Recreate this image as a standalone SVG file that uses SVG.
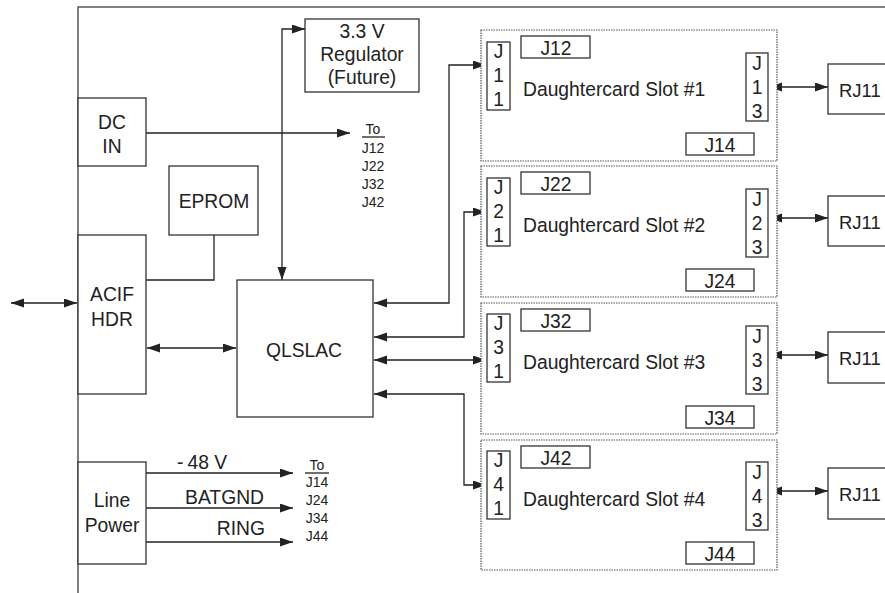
<svg xmlns="http://www.w3.org/2000/svg" width="885" height="593" viewBox="0 0 885 593">
<defs>
<style>
.bx{fill:#fff;stroke:#333;stroke-width:1.3}
.slot{fill:#fff;stroke:#555;stroke-width:1.2;stroke-dasharray:1.5 1}
.frame{fill:none;stroke:#555;stroke-width:1.5}
.w{fill:none;stroke:#222;stroke-width:1.3}
.a{marker-end:url(#ah)}
.d{marker-start:url(#ah);marker-end:url(#ah)}
text{font-family:"Liberation Sans",Arial,sans-serif;fill:#222;font-size:19.3px}
.c{text-anchor:middle}
.s{font-size:14px}
.m{font-size:19.3px}
.r{font-size:18.5px}
</style>
<marker id="ah" markerUnits="userSpaceOnUse" markerWidth="14" markerHeight="10" refX="13" refY="4.5" orient="auto-start-reverse" viewBox="0 0 14 10">
<path d="M0,0 L13,4.5 L0,9 z" fill="#222"/>
</marker>
</defs>
<rect width="885" height="593" fill="#fff"/>
<path class="frame" d="M78,593 V7 H885"/>

<g id="connectors">
<path class="w d" d="M11,303 H77"/>
<path class="w a" d="M146,133 H350"/>
<path class="w d" d="M305,29 H282 V280"/>
<path class="w" d="M214,235 V280 H146"/>
<path class="w d" d="M147,348 H236"/>
<path class="w d" d="M374,303 H449 V65 H486"/>
<path class="w d" d="M374,337 H464 V212 H486"/>
<path class="w d" d="M374,360 H486"/>
<path class="w d" d="M374,394 H464 V485 H486"/>
<path class="w d" d="M769,87 H828"/>
<path class="w d" d="M769,218 H828"/>
<path class="w d" d="M769,355 H828"/>
<path class="w d" d="M769,491 H828"/>
<path class="w a" d="M146,473 H293"/>
<path class="w a" d="M146,508 H293"/>
<path class="w a" d="M146,542 H293"/>
<path class="w" d="M362,137 H385"/>
<path class="w" d="M305,473 H329"/>
</g>

<g id="dcin"><rect class="bx" x="78" y="98" width="68" height="68"/><text class="c" x="112" y="129">DC</text><text class="c" x="112" y="153">IN</text></g>
<g id="eprom"><rect class="bx" x="169" y="166" width="89" height="69"/><text class="c" x="214" y="208">EPROM</text></g>
<g id="acif"><rect class="bx" x="78" y="235" width="68" height="159"/><text class="c" x="112" y="301">ACIF</text><text class="c" x="112" y="326">HDR</text></g>
<g id="qlslac"><rect class="bx" x="237" y="280" width="136" height="137"/><text class="c" x="304" y="357">QLSLAC</text></g>
<g id="regulator"><rect class="bx" x="305" y="19" width="114" height="73"/><text class="c m" x="362" y="38">3.3 V</text><text class="c m" x="362" y="61">Regulator</text><text class="c m" x="362" y="84">(Future)</text></g>
<g id="linepower"><rect class="bx" x="78" y="462" width="68" height="102"/><text class="c" x="112" y="507">Line</text><text class="c" x="112" y="532">Power</text></g>

<g id="labels-dc">
<text class="c s" x="373" y="134">To</text>
<text class="c s" x="373" y="153">J12</text>
<text class="c s" x="373" y="171">J22</text>
<text class="c s" x="373" y="189">J32</text>
<text class="c s" x="373" y="207">J42</text>
</g>
<g id="labels-power">
<text class="m" x="177" y="469">-<tspan dx="4">48 V</tspan></text>
<text class="m" x="264" y="504" text-anchor="end">BATGND</text>
<text class="m" x="265" y="535" text-anchor="end">RING</text>
<text class="c s" x="317" y="470">To</text>
<text class="c s" x="317" y="487">J14</text>
<text class="c s" x="317" y="505">J24</text>
<text class="c s" x="317" y="523">J34</text>
<text class="c s" x="317" y="541">J44</text>
</g>

<g id="slot1">
<rect class="slot" x="481" y="30" width="296" height="131"/>
<rect class="bx" x="487" y="42" width="23" height="68"/>
<text class="c m" x="498.5" y="58">J</text><text class="c m" x="498.5" y="82">1</text><text class="c m" x="498.5" y="106">1</text>
<rect class="bx" x="521" y="36" width="69" height="22"/><text class="c m" x="556" y="55">J12</text>
<text x="523" y="96">Daughtercard Slot #1</text>
<rect class="bx" x="746" y="53" width="22" height="68"/>
<text class="c m" x="757" y="70">J</text><text class="c m" x="757" y="94">1</text><text class="c m" x="757" y="118">3</text>
<rect class="bx" x="686" y="133" width="68" height="22"/><text class="c m" x="720" y="152">J14</text>
</g>
<g id="slot2">
<rect class="slot" x="481" y="166" width="296" height="131"/>
<rect class="bx" x="487" y="178" width="23" height="68"/>
<text class="c m" x="498.5" y="194">J</text><text class="c m" x="498.5" y="218">2</text><text class="c m" x="498.5" y="242">1</text>
<rect class="bx" x="521" y="172" width="69" height="22"/><text class="c m" x="556" y="191">J22</text>
<text x="523" y="232">Daughtercard Slot #2</text>
<rect class="bx" x="746" y="189" width="22" height="68"/>
<text class="c m" x="757" y="206">J</text><text class="c m" x="757" y="230">2</text><text class="c m" x="757" y="254">3</text>
<rect class="bx" x="686" y="269" width="68" height="22"/><text class="c m" x="720" y="288">J24</text>
</g>
<g id="slot3">
<rect class="slot" x="481" y="303" width="296" height="131"/>
<rect class="bx" x="487" y="314" width="23" height="68"/>
<text class="c m" x="498.5" y="330">J</text><text class="c m" x="498.5" y="354">3</text><text class="c m" x="498.5" y="378">1</text>
<rect class="bx" x="521" y="309" width="69" height="22"/><text class="c m" x="556" y="328">J32</text>
<text x="523" y="369">Daughtercard Slot #3</text>
<rect class="bx" x="746" y="326" width="22" height="68"/>
<text class="c m" x="757" y="343">J</text><text class="c m" x="757" y="367">3</text><text class="c m" x="757" y="391">3</text>
<rect class="bx" x="686" y="406" width="68" height="22"/><text class="c m" x="720" y="425">J34</text>
</g>
<g id="slot4">
<rect class="slot" x="481" y="440" width="296" height="130"/>
<rect class="bx" x="487" y="451" width="23" height="68"/>
<text class="c m" x="498.5" y="467">J</text><text class="c m" x="498.5" y="491">4</text><text class="c m" x="498.5" y="515">1</text>
<rect class="bx" x="521" y="446" width="69" height="22"/><text class="c m" x="556" y="465">J42</text>
<text x="523" y="506">Daughtercard Slot #4</text>
<rect class="bx" x="746" y="462" width="22" height="68"/>
<text class="c m" x="757" y="479">J</text><text class="c m" x="757" y="503">4</text><text class="c m" x="757" y="527">3</text>
<rect class="bx" x="686" y="542" width="68" height="22"/><text class="c m" x="720" y="561">J44</text>
</g>

<g id="rj11-1"><rect class="bx" x="828" y="64" width="70" height="50"/><text class="r" x="839" y="97">RJ11</text></g>
<g id="rj11-2"><rect class="bx" x="828" y="196" width="70" height="50"/><text class="r" x="839" y="229">RJ11</text></g>
<g id="rj11-3"><rect class="bx" x="828" y="332" width="70" height="51"/><text class="r" x="839" y="365">RJ11</text></g>
<g id="rj11-4"><rect class="bx" x="828" y="468" width="70" height="51"/><text class="r" x="839" y="501">RJ11</text></g>
</svg>
